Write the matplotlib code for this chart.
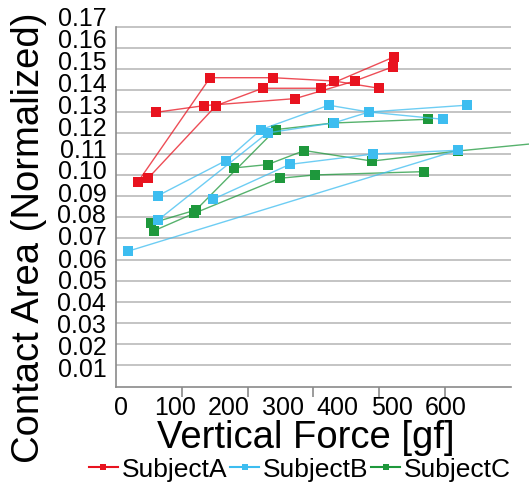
import matplotlib
matplotlib.use("Agg")
import matplotlib.pyplot as plt
from matplotlib.lines import Line2D
import numpy as np

plt.rcParams['font.family'] = ['Liberation Sans', 'DejaVu Sans']

# ---------------- data ----------------
xticks_vals = [0, 100, 200, 300, 400, 500, 600]
yticks_vals = [0.01, 0.02, 0.03, 0.04, 0.05, 0.06, 0.07, 0.08, 0.09, 0.10,
               0.11, 0.12, 0.13, 0.14, 0.15, 0.16, 0.17]

# Subject A (red), three trials
a1_x = [32, 165, 281, 394, 477]
a1_y = [0.0942, 0.1415, 0.1415, 0.1400, 0.1367]
a2_x = [51, 176, 262, 369, 505]
a2_y = [0.0959, 0.1288, 0.1367, 0.1367, 0.1510]
a3_x = [66, 154, 322, 432, 502]
a3_y = [0.1258, 0.1288, 0.1320, 0.1400, 0.1464]

# Subject B (blue)
b1_x = [69, 194, 259, 384, 458, 595]
b1_y = [0.0879, 0.1038, 0.1179, 0.1290, 0.1259, 0.1226]
b2_x = [69, 271, 394, 458, 639]
b2_y = [0.0768, 0.1164, 0.1210, 0.1259, 0.1290]
b3_x = [170, 312, 466, 622, 13]
b3_y = [0.0862, 0.1021, 0.1068, 0.1085, 0.0626]

# Subject C (green)
c1_x = [56, 139, 286, 392, 568]
c1_y = [0.0753, 0.0814, 0.1179, 0.1209, 0.1226]
c2_x = [62, 136, 294, 359, 560]
c2_y = [0.0720, 0.0799, 0.0958, 0.0973, 0.0988]
c3_x = [210, 271, 339, 464, 623, 811]
c3_y = [0.1005, 0.1020, 0.1084, 0.1036, 0.1082, 0.1127]

series = [
    ("SubjectA", "#E8131F", [(a1_x, a1_y), (a2_x, a2_y), (a3_x, a3_y)], 5),
    ("SubjectB", "#3DBDF0", [(b1_x, b1_y), (b2_x, b2_y), (b3_x, b3_y)], 4),
    ("SubjectC", "#1E983C", [(c1_x, c1_y), (c2_x, c2_y), (c3_x, c3_y)], 3),
]

# ---------------- layout helpers (pixel geometry of the frame) ----------------
W, H = 529, 489
ax_left_px, ax_right_px = 116.0, 510.8
ax_bot_px, ax_top_px = 387.5, 6.0
x0_px, x_scale = 120.7, 0.5417          # px of label "0", px per unit
y01_px, y_scale = 368.0, 2200.0         # px of label "0.01", px per unit
grid_step_px = 21.15
tick_step_px = 65.8

def xd(px):
    return (px - x0_px) / x_scale

def yd(py):
    return 0.01 + (y01_px - py) / y_scale

fig = plt.figure(figsize=(W / 100, H / 100), dpi=100)
ax = fig.add_axes([ax_left_px / W, (H - ax_bot_px) / H,
                   (ax_right_px - ax_left_px) / W, (ax_bot_px - ax_top_px) / H])

ax.set_xlim(xd(ax_left_px), xd(ax_right_px))
ax.set_ylim(yd(ax_bot_px), yd(ax_top_px))

# gridlines (minor y ticks) and x tick marks (minor x ticks)
grid_vals = [yd(ax_bot_px - grid_step_px * k) for k in range(1, 18)]
ax.set_yticks(grid_vals, minor=True)
ax.yaxis.grid(True, which='minor', color='#C4C4C4', lw=1.4, zorder=0)
ax.tick_params(axis='y', which='minor', length=0)
ax.set_yticks(yticks_vals)
ax.set_yticklabels([f"{v:.2f}" for v in yticks_vals])
ax.tick_params(axis='y', which='major', length=0, pad=7, labelsize=18)

tick_marks = [xd(ax_left_px + tick_step_px * k) for k in range(1, 6)]
ax.set_xticks(tick_marks, minor=True)
ax.tick_params(axis='x', which='minor', length=7, width=1.2, color='#8A8A8A')
ax.set_xticks(xticks_vals)
ax.set_xticklabels([str(v) for v in xticks_vals])
ax.tick_params(axis='x', which='major', length=0, pad=6, labelsize=18)

for s in ['top', 'right']:
    ax.spines[s].set_visible(False)
for s in ['left', 'bottom']:
    ax.spines[s].set_color('#8A8A8A')
    ax.spines[s].set_linewidth(1.2)
ax.spines['left'].set_bounds(yd(ax_bot_px), grid_vals[-1])
ax.set_axisbelow(True)

handles = []
for name, color, trials, z in series:
    for tx, ty in trials:
        ax.plot(tx, ty, color=color, lw=1.0, alpha=0.75, zorder=z, clip_on=False)
        ax.plot(tx, ty, ls='none', marker='s', ms=6.5, color=color,
                markeredgewidth=0, zorder=z + 0.5, clip_on=False)
    handles.append(Line2D([0], [0], color=color, lw=1.5, marker='s', ms=4,
                          markeredgewidth=0, label=name))

fig.text(29 / W, 1 - 238 / H, "Contact Area (Normalized)", rotation=90,
         ha='center', va='center', fontsize=27.5)
fig.text(306 / W, 1 - 438 / H, "Vertical Force [gf]", ha='center', va='center',
         fontsize=27.5)

fig.legend(handles=handles, loc='center', bbox_to_anchor=(300 / W, 1 - 470 / H),
           ncol=3, frameon=False, fontsize=19, handlelength=1.1,
           handletextpad=0.15, columnspacing=0.1, borderpad=0)

fig.savefig("out.png", dpi=100)
